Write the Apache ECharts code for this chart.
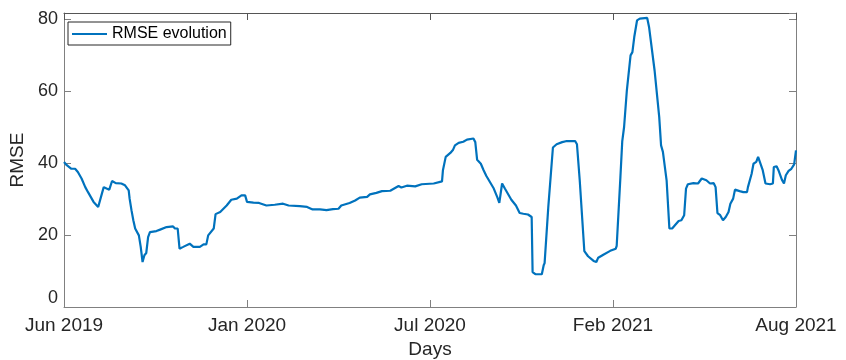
<!DOCTYPE html>
<html>
<head>
<meta charset="utf-8">
<script src="https://cdn.jsdelivr.net/npm/echarts@6/dist/echarts.min.js"></script>
<style>
html,body{margin:0;padding:0;background:#fff;}
#chart{width:846px;height:360px;}
</style>
</head>
<body>
<div id="chart"></div>
<script>
// Day index since Jun 2019 (axis runs 0..792)
const days = [0,3,8,12,15,19,23,26,32,37,39,41,43,46,49,52,53,56,62,66,70,71,73,75,77,81,83,85,87,89,91,93,100,104,106,111,118,120,123,125,129,136,140,147,151,154,156,162,164,169,176,181,187,189,192,196,198,205,211,219,228,237,243,255,263,269,277,284,291,297,300,309,315,320,328,331,338,344,353,362,365,371,380,387,400,409,410,413,418,421,423,427,432,436,443,445,447,451,454,457,459,465,469,471,474,477,484,489,493,497,502,506,507,510,517,519,520,524,529,533,539,544,553,555,558,563,567,573,576,578,584,591,597,598,602,604,606,609,613,615,617,620,623,631,633,639,644,646,648,652,655,658,661,665,668,671,673,675,681,686,690,695,699,703,705,707,710,713,716,719,721,724,726,731,735,739,740,744,746,749,751,753,756,759,764,767,768,771,773,777,779,781,784,787,790,792];
const rmse = [40.3,39.4,38.4,38.4,37.5,35.7,33.3,31.9,29.2,27.8,28.2,31.5,33.3,32.9,32.6,35.0,35.2,34.4,34.3,33.8,32.4,30.1,26.9,24.1,21.8,19.9,16.7,12.5,14.4,15.0,19.4,20.8,21.1,21.5,22.0,22.2,22.4,21.8,21.8,16.2,16.7,17.6,16.7,16.7,17.4,17.4,19.9,21.8,25.8,26.4,28.2,29.8,30.1,29.8,31.0,31.0,29.2,29.0,28.9,28.2,28.4,28.7,28.2,28.0,27.8,27.1,27.1,26.9,27.2,27.3,28.2,28.9,29.6,30.4,30.6,31.3,31.7,32.2,32.3,33.6,33.2,33.7,33.5,34.1,34.3,34.9,38.0,41.7,42.8,43.7,44.9,45.6,45.9,46.5,46.8,45.8,40.9,39.8,38.0,36.4,35.9,32.9,30.4,28.9,34.3,32.9,29.8,28.2,26.1,25.9,25.7,25.0,9.7,9.1,9.1,11.6,12.2,27.8,44.3,45.2,45.8,46.1,46.1,45.2,35.2,15.5,14.1,12.8,12.5,13.7,14.6,15.6,16.2,17.0,36.0,46.0,50.0,60.2,69.9,70.8,75.0,79.6,80.1,80.3,77.8,65.7,52.8,44.9,43.1,35.2,21.8,21.8,22.7,23.9,24.1,25.5,32.9,34.1,34.4,34.3,35.7,35.2,34.3,34.4,33.3,26.1,25.5,24.1,25.0,26.4,28.7,30.1,32.6,32.2,31.9,31.9,33.3,37.0,39.8,40.3,41.7,41.2,38.0,34.3,34.1,34.3,38.9,39.1,38.0,35.2,34.3,36.6,37.8,38.4,39.6,43.5];
const xTickLabels = ['Jun 2019','Jan 2020','Jul 2020','Feb 2021','Aug 2021'];
const seriesName = 'RMSE evolution';

const seriesData = days.map((d, i) => [d, rmse[i]]);
const txt = '#262626';
const axisGray = '#808080';
const FONT = 'Liberation Sans, Arial, sans-serif';

const chart = echarts.init(document.getElementById('chart'), null, {renderer: 'canvas'});
chart.setOption({
  backgroundColor: '#ffffff',
  animation: false,
  textStyle: {fontFamily: FONT},
  grid: {left: 64, right: 50, top: 13, bottom: 53, containLabel: false, outerBoundsMode: 'none'},
  legend: {
    show: true,
    left: 68, top: 22,
    orient: 'horizontal',
    data: [{name: seriesName, icon: 'rect'}],
    itemWidth: 35, itemHeight: 2, itemGap: 5,
    padding: [4, 4, 3, 4],
    borderColor: '#262626', borderWidth: 1,
    backgroundColor: '#ffffff',
    textStyle: {color: '#000000', fontSize: 16, fontFamily: FONT}
  },
  xAxis: [{
    type: 'value', position: 'bottom',
    min: 0, max: 792, interval: 198,
    name: 'Days', nameLocation: 'middle', nameGap: 33,
    nameTextStyle: {color: txt, fontSize: 19, fontFamily: FONT},
    axisLine: {show: true, onZero: false, lineStyle: {color: axisGray, width: 1}},
    axisTick: {show: true, inside: true, length: 7, lineStyle: {color: axisGray}},
    axisLabel: {color: txt, fontSize: 19, margin: 9, fontFamily: FONT,
      formatter: v => xTickLabels[Math.round(v / 198)] || ''},
    splitLine: {show: false}
  }, {
    type: 'value', position: 'top',
    min: 0, max: 792, interval: 198,
    axisLine: {show: true, onZero: false, lineStyle: {color: '#555555', width: 1}},
    axisTick: {show: true, inside: true, length: 7, lineStyle: {color: '#555555'}},
    axisLabel: {show: false},
    splitLine: {show: false}
  }],
  yAxis: [{
    type: 'value', position: 'left',
    min: 0, max: 81.67, interval: 20,
    name: 'RMSE', nameLocation: 'middle', nameGap: 30,
    nameTextStyle: {color: txt, fontSize: 19, fontFamily: FONT},
    axisLine: {show: true, onZero: false, lineStyle: {color: axisGray, width: 1}},
    axisTick: {show: true, inside: true, length: 7, lineStyle: {color: axisGray}},
    axisLabel: {color: txt, fontSize: 18, margin: 6, fontFamily: FONT,
      showMaxLabel: false,
      formatter: v => (v % 20 === 0 ? (v === 0 ? '{z|0}' : String(v)) : ''),
      rich: {z: {fontSize: 18, color: txt, fontFamily: FONT, padding: [0, 0, 18, 0]}}},
    splitLine: {show: false}
  }, {
    type: 'value', position: 'right',
    min: 0, max: 81.67, interval: 20,
    axisLine: {show: true, onZero: false, lineStyle: {color: axisGray, width: 1}},
    axisTick: {show: true, inside: true, length: 7, lineStyle: {color: axisGray}},
    axisLabel: {show: false},
    splitLine: {show: false}
  }],
  series: [{
    name: seriesName,
    type: 'line',
    xAxisIndex: 0, yAxisIndex: 0,
    data: seriesData,
    showSymbol: false, symbol: 'none',
    smooth: false,
    lineStyle: {color: '#0072BD', width: 2.2},
    itemStyle: {color: '#0072BD'}
  }]
});
</script>
</body>
</html>
